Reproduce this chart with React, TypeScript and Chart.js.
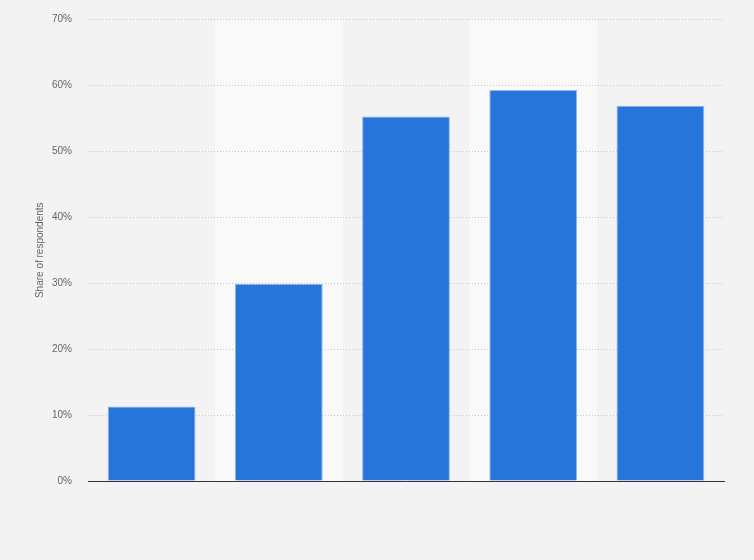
import { useRef, useEffect } from 'react'
import { Chart, registerables } from 'chart.js'

Chart.register(...registerables)

const categories = ['A', 'B', 'C', 'D', 'E']
const shares = [11.3, 29.9, 55.3, 59.3, 56.9]
const yTicks = [0, 10, 20, 30, 40, 50, 60, 70]

// lighter bands behind every second column, drawn before the grid
const bandPlugin = {
  id: 'bands',
  beforeDraw(chart: any) {
    const { ctx, chartArea, scales } = chart
    const x = scales.x
    const step = (chartArea.right - chartArea.left) / categories.length
    ctx.save()
    ctx.fillStyle = '#f9f9f9'
    categories.forEach((_, i) => {
      if (i % 2 === 1) {
        const cx = x.getPixelForValue(i)
        ctx.fillRect(cx - step / 2, chartArea.top, step, chartArea.bottom - chartArea.top)
      }
    })
    ctx.restore()
  },
}

export default function App() {
  const canvasRef = useRef<HTMLCanvasElement>(null)
  const chartRef = useRef<Chart | null>(null)

  useEffect(() => {
    if (!canvasRef.current) return
    document.body.style.margin = '0'

    chartRef.current = new Chart(canvasRef.current, {
      type: 'bar',
      data: {
        labels: categories,
        datasets: [
          {
            data: shares,
            backgroundColor: '#2775db',
            borderColor: '#8fb6ee',
            borderWidth: 1,
            barPercentage: 0.69,
            categoryPercentage: 1,
          },
        ],
      },
      options: {
        animation: false,
        responsive: false,
        maintainAspectRatio: false,
        layout: { padding: { left: 0, right: 30, top: 19.5, bottom: 79 } },
        plugins: { legend: { display: false }, tooltip: { enabled: false } },
        scales: {
          x: {
            grid: { display: false },
            ticks: { display: false },
            border: { color: '#333333', width: 1 },
            afterFit: (s: any) => {
              s.height = 0
            },
          },
          y: {
            min: 0,
            max: 70,
            afterBuildTicks: (s: any) => {
              s.ticks = yTicks.map((v) => ({ value: v }))
            },
            afterFit: (s: any) => {
              s.width = 88
              s.paddingTop = 0
              s.paddingBottom = 0
            },
            border: { display: false, dash: [1, 2] },
            grid: { color: '#c8c8c8', drawTicks: false, lineWidth: 1 },
            ticks: {
              color: '#666666',
              padding: 16,
              font: { family: 'Arial, "Liberation Sans", sans-serif', size: 10 },
              callback: (v: any) => `${v}%`,
            },
            title: {
              display: true,
              text: 'Share of respondents',
              color: '#666666',
              padding: { top: 34, bottom: 0 },
              font: { family: 'Arial, "Liberation Sans", sans-serif', size: 10 },
            },
          },
        },
      },
      plugins: [bandPlugin],
    })

    return () => {
      chartRef.current?.destroy()
    }
  }, [])

  return (
    <div style={{ position: 'relative', width: 754, height: 560, background: '#f3f3f3' }}>
      <canvas ref={canvasRef} width={754} height={560} style={{ width: 754, height: 560 }} />
    </div>
  )
}
